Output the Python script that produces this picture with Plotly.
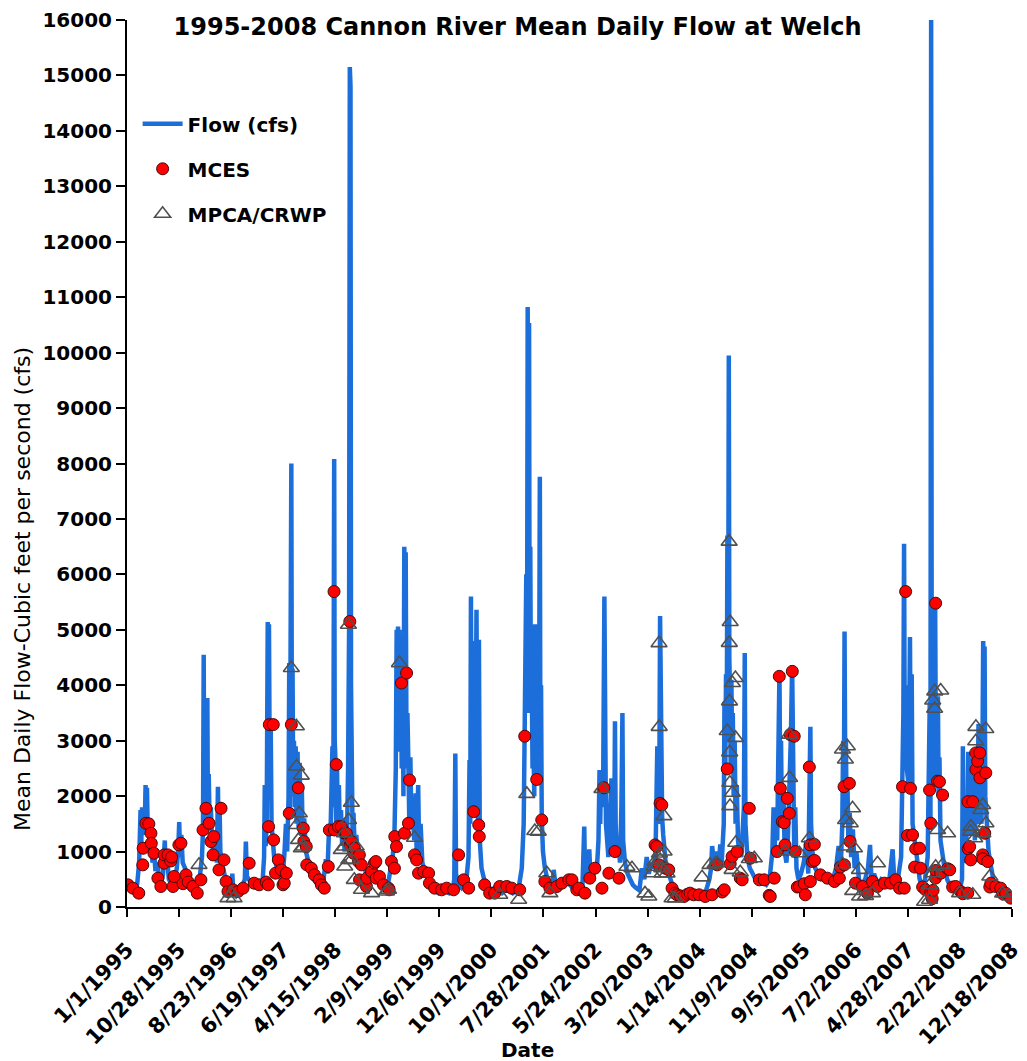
import plotly.graph_objects as go

# Mean daily flow at Welch (date, cfs)
flow = [
    # 1995
    ("1995-01-01", 400), ("1995-01-20", 350), ("1995-02-10", 300), ("1995-03-01", 420), ("1995-03-12", 800),
    ("1995-03-20", 1750), ("1995-03-24", 1100), ("1995-03-29", 1800), ("1995-04-03", 1300), ("1995-04-08", 1750),
    ("1995-04-13", 1400), ("1995-04-18", 2200), ("1995-04-22", 1500), ("1995-04-26", 2150), ("1995-05-01", 1300),
    ("1995-05-07", 1600), ("1995-05-13", 1000), ("1995-05-20", 1200), ("1995-05-28", 800), ("1995-06-06", 1000),
    ("1995-06-14", 650), ("1995-06-24", 800), ("1995-07-05", 550), ("1995-07-18", 450), ("1995-07-28", 600),
    ("1995-08-03", 1000), ("1995-08-07", 1200), ("1995-08-11", 700), ("1995-08-20", 900), ("1995-08-30", 500),
    ("1995-09-15", 420), ("1995-10-01", 450), ("1995-10-15", 700), ("1995-10-24", 1100), ("1995-10-29", 1530),
    ("1995-11-03", 900), ("1995-11-10", 1300), ("1995-11-18", 800), ("1995-12-01", 700), ("1995-12-15", 550),
    ("1995-12-28", 500),
    # 1996
    ("1996-01-15", 450), ("1996-02-05", 400), ("1996-02-25", 550), ("1996-03-08", 900), ("1996-03-14", 1400),
    ("1996-03-18", 4550), ("1996-03-21", 1700), ("1996-03-25", 2500), ("1996-03-29", 1600), ("1996-04-03", 2200),
    ("1996-04-08", 3770), ("1996-04-11", 1800), ("1996-04-16", 2400), ("1996-04-21", 1500), ("1996-04-28", 1800),
    ("1996-05-05", 1200), ("1996-05-14", 900), ("1996-05-24", 1100), ("1996-06-02", 800), ("1996-06-08", 2170),
    ("1996-06-12", 1200), ("1996-06-17", 1900), ("1996-06-22", 1000), ("1996-07-01", 800), ("1996-07-12", 600),
    ("1996-07-25", 450), ("1996-08-06", 300), ("1996-08-20", 220), ("1996-08-30", 600), ("1996-09-05", 250),
    ("1996-09-20", 200), ("1996-10-05", 280), ("1996-10-22", 350), ("1996-11-10", 500), ("1996-11-16", 1180),
    ("1996-11-22", 550), ("1996-12-05", 500), ("1996-12-20", 420),
    # 1997
    ("1997-01-10", 380), ("1997-02-01", 350), ("1997-02-20", 450), ("1997-03-01", 900), ("1997-03-05", 2200),
    ("1997-03-10", 1100), ("1997-03-16", 1500), ("1997-03-22", 5140), ("1997-03-25", 2500), ("1997-03-29", 5100),
    ("1997-04-03", 2200), ("1997-04-08", 3300), ("1997-04-13", 1500), ("1997-04-20", 1200), ("1997-04-28", 900),
    ("1997-05-10", 750), ("1997-05-22", 600), ("1997-06-05", 500), ("1997-06-15", 550), ("1997-06-25", 900),
    ("1997-07-05", 1500), ("1997-07-12", 1000), ("1997-07-20", 2000), ("1997-07-24", 4400), ("1997-07-28", 1800),
    ("1997-08-01", 4500), ("1997-08-05", 8000), ("1997-08-08", 3000), ("1997-08-12", 4300), ("1997-08-16", 2000),
    ("1997-08-20", 3000), ("1997-08-25", 1800), ("1997-08-30", 2900), ("1997-09-04", 1500), ("1997-09-10", 2800),
    ("1997-09-16", 1400), ("1997-09-22", 2600), ("1997-09-28", 1300), ("1997-10-04", 2200), ("1997-10-10", 1200),
    ("1997-10-18", 1600), ("1997-10-28", 1000), ("1997-11-10", 800), ("1997-11-25", 650), ("1997-12-10", 500),
    ("1997-12-25", 420),
    # 1998
    ("1998-01-05", 400), ("1998-01-20", 350), ("1998-02-05", 450), ("1998-02-20", 860), ("1998-03-01", 600),
    ("1998-03-10", 1400), ("1998-03-20", 1500), ("1998-03-30", 2900), ("1998-04-04", 1800), ("1998-04-07", 5700),
    ("1998-04-09", 8080), ("1998-04-12", 3000), ("1998-04-16", 2680), ("1998-04-20", 1500), ("1998-04-25", 2600),
    ("1998-04-30", 1400), ("1998-05-06", 2200), ("1998-05-12", 1300), ("1998-05-18", 1750), ("1998-05-25", 1100),
    ("1998-06-01", 1600), ("1998-06-08", 1000), ("1998-06-15", 1500), ("1998-06-22", 1300), ("1998-06-28", 2500),
    ("1998-07-04", 5100), ("1998-07-08", 15150), ("1998-07-10", 6000), ("1998-07-12", 14800), ("1998-07-15", 4000),
    ("1998-07-19", 1930), ("1998-07-24", 1300), ("1998-07-29", 1700), ("1998-08-05", 1100), ("1998-08-14", 1300),
    ("1998-08-25", 900), ("1998-09-05", 1000), ("1998-09-15", 700), ("1998-09-28", 800), ("1998-10-12", 550),
    ("1998-10-28", 700), ("1998-11-12", 550), ("1998-11-28", 800), ("1998-12-10", 500), ("1998-12-28", 400),
    # 1999
    ("1999-01-10", 380), ("1999-01-28", 350), ("1999-02-15", 450), ("1999-03-01", 700), ("1999-03-12", 900),
    ("1999-03-22", 1300), ("1999-03-30", 2500), ("1999-04-04", 5000), ("1999-04-08", 3000), ("1999-04-12", 5060),
    ("1999-04-16", 3500), ("1999-04-20", 5000), ("1999-04-24", 2800), ("1999-04-28", 4500), ("1999-05-03", 2500),
    ("1999-05-08", 4400), ("1999-05-13", 2000), ("1999-05-18", 6500), ("1999-05-22", 3000), ("1999-05-26", 6400),
    ("1999-05-31", 2500), ("1999-06-05", 3500), ("1999-06-10", 2700), ("1999-06-16", 1500), ("1999-06-22", 2700),
    ("1999-06-28", 1400), ("1999-07-05", 1800), ("1999-07-14", 1200), ("1999-07-22", 2050), ("1999-07-28", 1000),
    ("1999-08-06", 2200), ("1999-08-12", 900), ("1999-08-20", 1500), ("1999-08-30", 800), ("1999-09-15", 600),
    ("1999-10-01", 500), ("1999-10-20", 400), ("1999-11-10", 300), ("1999-12-01", 250), ("1999-12-20", 300),
    # 2000
    ("2000-01-10", 300), ("2000-02-01", 250), ("2000-02-20", 300), ("2000-03-01", 500), ("2000-03-07", 2770),
    ("2000-03-11", 600), ("2000-03-25", 400), ("2000-04-10", 350), ("2000-04-25", 450), ("2000-05-10", 500),
    ("2000-05-22", 900), ("2000-05-28", 2650), ("2000-06-01", 1500), ("2000-06-05", 5600), ("2000-06-09", 2500),
    ("2000-06-13", 4800), ("2000-06-17", 2000), ("2000-06-22", 3500), ("2000-06-27", 1800), ("2000-07-02", 2650),
    ("2000-07-07", 5360), ("2000-07-11", 2500), ("2000-07-16", 1500), ("2000-07-21", 4820), ("2000-07-26", 1200),
    ("2000-08-05", 700), ("2000-08-20", 500), ("2000-09-10", 400), ("2000-09-30", 300), ("2000-10-20", 350),
    ("2000-11-10", 300), ("2000-12-01", 250), ("2000-12-20", 300),
    # 2001
    ("2001-01-10", 300), ("2001-02-01", 250), ("2001-02-25", 300), ("2001-03-10", 400), ("2001-03-25", 700),
    ("2001-04-05", 1500), ("2001-04-10", 3100), ("2001-04-15", 4300), ("2001-04-20", 6000), ("2001-04-24", 3500),
    ("2001-04-28", 10825), ("2001-05-02", 6000), ("2001-05-06", 10535), ("2001-05-09", 4300), ("2001-05-13", 6500),
    ("2001-05-17", 3500), ("2001-05-21", 4300), ("2001-05-26", 2500), ("2001-05-31", 3000), ("2001-06-05", 2000),
    ("2001-06-10", 5100), ("2001-06-14", 2500), ("2001-06-18", 4500), ("2001-06-22", 2300), ("2001-06-27", 3500),
    ("2001-07-02", 2500), ("2001-07-07", 7760), ("2001-07-10", 3000), ("2001-07-14", 4000), ("2001-07-18", 1600),
    ("2001-07-25", 1000), ("2001-08-05", 700), ("2001-08-20", 500), ("2001-09-05", 400), ("2001-09-15", 350),
    ("2001-09-25", 670), ("2001-10-05", 400), ("2001-10-25", 350), ("2001-11-15", 400), ("2001-12-05", 500),
    ("2001-12-25", 400),
    # 2002
    ("2002-01-10", 350), ("2002-02-01", 300), ("2002-02-20", 350), ("2002-03-10", 400), ("2002-03-20", 1450),
    ("2002-03-25", 500), ("2002-04-10", 600), ("2002-04-18", 1040), ("2002-04-25", 500), ("2002-05-15", 600),
    ("2002-06-01", 700), ("2002-06-10", 1200), ("2002-06-16", 2470), ("2002-06-20", 1500), ("2002-06-25", 2400),
    ("2002-07-01", 1800), ("2002-07-07", 2200), ("2002-07-14", 5600), ("2002-07-18", 2300), ("2002-07-23", 1500),
    ("2002-07-30", 1200), ("2002-08-06", 900), ("2002-08-12", 1500), ("2002-08-24", 2320), ("2002-08-29", 1000),
    ("2002-09-05", 2000), ("2002-09-09", 1300), ("2002-09-13", 3350), ("2002-09-17", 1500), ("2002-09-24", 900),
    ("2002-10-02", 1200), ("2002-10-12", 800), ("2002-10-20", 1800), ("2002-10-26", 3500), ("2002-10-30", 1200),
    ("2002-11-10", 800), ("2002-11-25", 600), ("2002-12-10", 500), ("2002-12-25", 400),
    # 2003
    ("2003-01-10", 350), ("2003-02-01", 300), ("2003-02-15", 700), ("2003-03-01", 500), ("2003-03-15", 900),
    ("2003-03-27", 600), ("2003-04-10", 800), ("2003-04-25", 700), ("2003-05-05", 1000), ("2003-05-15", 2900),
    ("2003-05-21", 1500), ("2003-05-27", 2500), ("2003-05-31", 5250), ("2003-06-03", 3300), ("2003-06-08", 2200),
    ("2003-06-12", 1600), ("2003-06-18", 1300), ("2003-06-25", 1000), ("2003-07-05", 700), ("2003-07-20", 600),
    ("2003-08-08", 400), ("2003-08-25", 250), ("2003-09-15", 200), ("2003-10-05", 150), ("2003-10-25", 200),
    ("2003-11-15", 250), ("2003-12-05", 200), ("2003-12-25", 250),
    # 2004
    ("2004-01-10", 200), ("2004-02-01", 250), ("2004-02-20", 300), ("2004-03-10", 500), ("2004-03-20", 700),
    ("2004-03-26", 1100), ("2004-04-05", 800), ("2004-04-20", 1000), ("2004-05-01", 700), ("2004-05-12", 1130),
    ("2004-05-20", 800), ("2004-06-01", 1500), ("2004-06-05", 3700), ("2004-06-10", 2500), ("2004-06-14", 4200),
    ("2004-06-18", 3000), ("2004-06-22", 6700), ("2004-06-26", 3500), ("2004-06-30", 9950), ("2004-07-03", 4500),
    ("2004-07-07", 3800), ("2004-07-11", 2500), ("2004-07-15", 4100), ("2004-07-19", 2800), ("2004-07-23", 3500),
    ("2004-07-28", 2000), ("2004-08-03", 3000), ("2004-08-08", 1500), ("2004-08-15", 2200), ("2004-08-22", 1200),
    ("2004-08-30", 1000), ("2004-09-10", 900), ("2004-09-25", 1800), ("2004-09-30", 4580), ("2004-10-04", 1500),
    ("2004-10-15", 900), ("2004-10-29", 700), ("2004-11-15", 600), ("2004-12-01", 500), ("2004-12-20", 450),
    # 2005
    ("2005-01-10", 450), ("2005-02-01", 400), ("2005-02-20", 500), ("2005-03-08", 1000), ("2005-03-15", 1800),
    ("2005-03-20", 900), ("2005-03-28", 1700), ("2005-04-05", 1200), ("2005-04-12", 2500), ("2005-04-18", 4270),
    ("2005-04-22", 2000), ("2005-04-27", 3000), ("2005-05-02", 1500), ("2005-05-10", 2200), ("2005-05-18", 1000),
    ("2005-05-28", 800), ("2005-06-05", 1200), ("2005-06-15", 2000), ("2005-06-23", 3100), ("2005-06-30", 4360),
    ("2005-07-04", 2500), ("2005-07-08", 3100), ("2005-07-12", 1000), ("2005-07-18", 1800), ("2005-07-25", 700),
    ("2005-08-05", 500), ("2005-08-20", 600), ("2005-09-05", 800), ("2005-09-20", 1200), ("2005-10-01", 600),
    ("2005-10-09", 2500), ("2005-10-13", 3250), ("2005-10-17", 1500), ("2005-10-25", 1000), ("2005-11-10", 700),
    ("2005-11-25", 600), ("2005-12-15", 500),
    # 2006
    ("2006-01-10", 500), ("2006-02-01", 450), ("2006-02-20", 500), ("2006-03-10", 700), ("2006-03-25", 1100),
    ("2006-04-05", 600), ("2006-04-15", 1500), ("2006-04-20", 3000), ("2006-04-24", 1800), ("2006-04-28", 4970),
    ("2006-05-02", 2500), ("2006-05-06", 3000), ("2006-05-10", 1500), ("2006-05-15", 2200), ("2006-05-20", 1200),
    ("2006-05-28", 1700), ("2006-06-05", 900), ("2006-06-15", 1400), ("2006-06-25", 700), ("2006-07-05", 1000),
    ("2006-07-20", 500), ("2006-08-05", 400), ("2006-08-25", 500), ("2006-09-10", 700), ("2006-09-22", 1120),
    ("2006-09-30", 500), ("2006-10-15", 600), ("2006-11-05", 400), ("2006-11-25", 500), ("2006-12-15", 450),
    # 2007
    ("2007-01-10", 450), ("2007-01-30", 1040), ("2007-02-10", 400), ("2007-03-01", 500), ("2007-03-20", 900),
    ("2007-03-28", 2200), ("2007-04-02", 3500), ("2007-04-06", 6550), ("2007-04-10", 3000), ("2007-04-16", 4000),
    ("2007-04-22", 2500), ("2007-05-02", 2200), ("2007-05-10", 4870), ("2007-05-14", 2500), ("2007-05-20", 4200),
    ("2007-05-25", 1500), ("2007-06-02", 1300), ("2007-06-12", 1000), ("2007-06-25", 700), ("2007-07-05", 500),
    ("2007-07-20", 350), ("2007-08-05", 500), ("2007-08-20", 900), ("2007-08-27", 2100), ("2007-09-01", 3700),
    ("2007-09-05", 1500), ("2007-09-09", 16000), ("2007-09-12", 5000), ("2007-09-16", 3900), ("2007-09-20", 3600),
    ("2007-09-24", 2200), ("2007-09-28", 3900), ("2007-10-02", 5500), ("2007-10-06", 3000), ("2007-10-10", 3800),
    ("2007-10-14", 2300), ("2007-10-18", 3800), ("2007-10-22", 2000), ("2007-10-27", 2700), ("2007-11-02", 1200),
    ("2007-11-12", 900), ("2007-11-25", 700), ("2007-12-10", 500), ("2007-12-25", 400),
    # 2008
    ("2008-01-10", 350), ("2008-02-01", 300), ("2008-02-20", 300), ("2008-03-05", 500), ("2008-03-10", 2900),
    ("2008-03-14", 800), ("2008-03-25", 1000), ("2008-04-05", 1500), ("2008-04-10", 2800), ("2008-04-14", 1500),
    ("2008-04-20", 2600), ("2008-04-25", 1300), ("2008-05-01", 2700), ("2008-05-06", 1500), ("2008-05-12", 2500),
    ("2008-05-18", 1200), ("2008-05-25", 2000), ("2008-06-01", 1500), ("2008-06-08", 3300), ("2008-06-12", 2000),
    ("2008-06-18", 2500), ("2008-06-25", 1500), ("2008-07-01", 3000), ("2008-07-05", 4800), ("2008-07-09", 3200),
    ("2008-07-13", 4700), ("2008-07-17", 2000), ("2008-07-25", 1500), ("2008-08-05", 1000), ("2008-08-15", 800),
    ("2008-09-01", 500), ("2008-09-20", 400), ("2008-10-10", 300), ("2008-11-05", 250), ("2008-12-01", 200),
    ("2008-12-18", 250),
]

# MCES grab samples (date, flow cfs on sample day)
mces = [
    ("1995-01-07", 400), ("1995-02-04", 340), ("1995-03-10", 250), ("1995-04-02", 760), ("1995-04-04", 1060),
    ("1995-04-20", 1510), ("1995-05-07", 1500), ("1995-05-19", 1330), ("1995-05-21", 1150), ("1995-06-05", 970),
    ("1995-06-28", 520), ("1995-07-15", 370), ("1995-08-02", 790), ("1995-08-04", 940), ("1995-08-25", 940),
    ("1995-09-10", 830), ("1995-09-15", 900), ("1995-09-23", 370), ("1995-09-29", 550), ("1995-10-27", 1120),
    ("1995-11-08", 1150), ("1995-11-20", 420), ("1995-12-07", 580), ("1995-12-20", 450),
    ("1996-01-16", 370), ("1996-02-10", 250), ("1996-03-02", 490), ("1996-03-14", 1390), ("1996-03-31", 1780),
    ("1996-04-18", 1510), ("1996-04-29", 1180), ("1996-05-11", 940), ("1996-05-15", 1270), ("1996-06-14", 670),
    ("1996-06-26", 1780), ("1996-07-13", 850), ("1996-07-25", 460), ("1996-08-05", 280), ("1996-09-03", 310),
    ("1996-10-02", 280), ("1996-10-31", 340), ("1996-12-05", 790),
    ("1997-01-03", 430), ("1997-02-01", 400), ("1997-03-13", 450), ("1997-03-25", 400), ("1997-03-27", 1450),
    ("1997-03-31", 3290), ("1997-04-23", 3290), ("1997-04-25", 1210), ("1997-05-06", 610), ("1997-05-22", 850),
    ("1997-06-08", 670), ("1997-06-18", 400), ("1997-06-25", 430), ("1997-07-07", 610), ("1997-07-24", 1690),
    ("1997-08-05", 3290), ("1997-09-14", 2150), ("1997-10-13", 1420), ("1997-10-16", 1180), ("1997-10-30", 1090),
    ("1997-11-02", 760), ("1997-11-28", 700), ("1997-12-16", 580),
    ("1998-01-13", 490), ("1998-01-25", 400), ("1998-02-11", 340), ("1998-03-06", 730), ("1998-03-12", 1390),
    ("1998-04-08", 5690), ("1998-04-10", 1390), ("1998-04-21", 2570), ("1998-05-03", 1450), ("1998-05-20", 1450),
    ("1998-06-07", 1330), ("1998-06-18", 1330), ("1998-07-08", 5150), ("1998-07-10", 1120), ("1998-07-17", 1180),
    ("1998-07-29", 970), ("1998-08-03", 1060), ("1998-08-27", 820), ("1998-09-01", 940), ("1998-09-02", 490),
    ("1998-09-13", 760), ("1998-10-12", 370), ("1998-10-14", 520), ("1998-11-10", 640), ("1998-11-27", 790),
    ("1998-12-05", 820), ("1998-12-07", 520), ("1998-12-26", 550),
    ("1999-01-18", 400), ("1999-02-16", 340), ("1999-02-20", 310), ("1999-03-05", 820), ("1999-03-22", 700),
    ("1999-03-24", 1270), ("1999-04-03", 1090), ("1999-05-02", 4040), ("1999-05-19", 1330), ("1999-05-31", 4220),
    ("1999-06-11", 1510), ("1999-06-17", 2290), ("1999-07-16", 940), ("1999-07-28", 850), ("1999-08-08", 610),
    ("1999-09-06", 640), ("1999-10-05", 610), ("1999-10-10", 430), ("1999-11-09", 340), ("1999-12-19", 310),
    ("2000-01-17", 340), ("2000-02-26", 310), ("2000-03-26", 940), ("2000-04-24", 490), ("2000-05-23", 340),
    ("2000-06-21", 1720), ("2000-07-20", 1480), ("2000-07-23", 1270), ("2000-08-23", 400), ("2000-09-21", 250),
    ("2000-10-20", 250), ("2000-11-18", 370), ("2000-12-28", 370),
    ("2001-01-26", 340), ("2001-03-13", 310), ("2001-04-11", 3080), ("2001-06-19", 2300), ("2001-07-18", 1570),
    ("2001-08-05", 460), ("2001-09-03", 340), ("2001-10-13", 370), ("2001-11-11", 430), ("2001-12-21", 490),
    ("2002-01-08", 490), ("2002-02-05", 310), ("2002-02-17", 340), ("2002-03-24", 250), ("2002-04-21", 520),
    ("2002-05-20", 700), ("2002-06-30", 340), ("2002-07-11", 2150), ("2002-08-09", 610), ("2002-09-13", 1000),
    ("2002-10-06", 520),
    ("2003-05-02", 1120), ("2003-05-12", 1090), ("2003-05-26", 760), ("2003-05-31", 1870), ("2003-06-10", 1840),
    ("2003-06-29", 700), ("2003-07-20", 670), ("2003-08-08", 340), ("2003-08-25", 250), ("2003-09-05", 220),
    ("2003-09-25", 200), ("2003-10-16", 190), ("2003-11-05", 230), ("2003-11-20", 250), ("2003-12-10", 220),
    ("2004-01-11", 220), ("2004-02-15", 190), ("2004-03-26", 220), ("2004-04-24", 760), ("2004-05-23", 270),
    ("2004-06-04", 310), ("2004-06-21", 2490), ("2004-07-08", 780), ("2004-07-19", 910), ("2004-08-17", 1000),
    ("2004-09-04", 520), ("2004-09-15", 490), ("2004-10-26", 1780), ("2004-11-01", 880), ("2004-12-23", 490),
    ("2005-01-20", 490), ("2005-02-18", 210), ("2005-02-24", 190), ("2005-03-19", 520), ("2005-04-05", 1000),
    ("2005-04-17", 4160), ("2005-04-23", 2140), ("2005-05-04", 1540), ("2005-05-15", 1520), ("2005-05-20", 1120),
    ("2005-06-02", 1960), ("2005-06-14", 1690), ("2005-06-19", 3110), ("2005-07-01", 4250), ("2005-07-12", 3080),
    ("2005-07-18", 1000), ("2005-07-30", 360), ("2005-08-11", 370), ("2005-09-08", 420), ("2005-09-14", 220),
    ("2005-10-07", 2525), ("2005-10-12", 1120), ("2005-10-13", 460), ("2005-10-25", 820), ("2005-11-05", 1130),
    ("2005-11-06", 840), ("2005-12-10", 580),
    ("2006-01-19", 520), ("2006-03-01", 460), ("2006-03-29", 520), ("2006-04-04", 720), ("2006-04-25", 2170),
    ("2006-04-27", 760), ("2006-05-26", 2230), ("2006-05-30", 1180), ("2006-06-30", 430), ("2006-08-09", 370),
    ("2006-09-07", 250), ("2006-10-06", 460), ("2006-11-04", 370), ("2006-12-14", 430),
    ("2007-01-18", 430), ("2007-02-16", 490), ("2007-03-11", 340), ("2007-03-28", 2170), ("2007-04-07", 340),
    ("2007-04-15", 5690), ("2007-04-26", 1290), ("2007-05-13", 2140), ("2007-05-25", 1300), ("2007-06-06", 720),
    ("2007-06-12", 1050), ("2007-07-04", 1060), ("2007-07-10", 700), ("2007-07-22", 360), ("2007-08-08", 310),
    ("2007-08-31", 2110), ("2007-09-06", 250), ("2007-09-07", 1510), ("2007-09-15", 150), ("2007-09-20", 300),
    ("2007-10-04", 520), ("2007-10-05", 5480), ("2007-10-06", 660), ("2007-10-16", 2270), ("2007-10-27", 2260),
    ("2007-11-03", 610), ("2007-11-14", 2020), ("2007-12-13", 690), ("2007-12-25", 670),
    ("2008-01-11", 360), ("2008-01-28", 370), ("2008-02-26", 280), ("2008-03-09", 240), ("2008-04-07", 250),
    ("2008-04-08", 1900), ("2008-04-09", 1050), ("2008-04-18", 1090), ("2008-04-24", 850), ("2008-05-06", 1900),
    ("2008-05-23", 2780), ("2008-05-24", 2480), ("2008-06-03", 2630), ("2008-06-15", 2780), ("2008-06-16", 2330),
    ("2008-07-02", 940), ("2008-07-03", 870), ("2008-07-14", 1330), ("2008-07-20", 2420), ("2008-07-31", 820),
    ("2008-08-12", 360), ("2008-08-18", 430), ("2008-09-15", 370), ("2008-10-14", 340), ("2008-10-25", 240),
    ("2008-11-11", 250), ("2008-12-11", 160),
]

# MPCA / CRWP samples (date, flow cfs on sample day)
mpca = [
    ("1996-02-20", 760), ("1996-08-05", 160), ("1996-08-23", 250), ("1996-09-09", 160),
    ("1997-08-05", 4310), ("1997-09-03", 3260), ("1997-09-04", 2535), ("1997-09-05", 1480), ("1997-09-15", 1210),
    ("1997-09-20", 1690), ("1997-10-01", 2370), ("1997-10-02", 1060), ("1997-10-13", 1090),
    ("1998-05-20", 1030), ("1998-06-07", 1330), ("1998-06-08", 1090), ("1998-06-09", 730), ("1998-06-30", 5090),
    ("1998-07-01", 1570), ("1998-07-02", 850), ("1998-07-17", 1880), ("1998-07-18", 850), ("1998-08-03", 490),
    ("1998-08-14", 1090), ("1998-09-13", 310), ("1998-11-10", 250),
    ("1999-02-04", 280), ("1999-02-16", 310), ("1999-04-20", 4400), ("1999-07-16", 1250),
    ("2000-11-18", 220),
    ("2001-03-07", 130), ("2001-04-23", 2040), ("2001-06-08", 1370), ("2001-06-28", 1360), ("2001-08-16", 610),
    ("2001-09-03", 250),
    ("2002-06-30", 2130), ("2002-11-21", 725), ("2002-12-20", 700),
    ("2003-03-05", 245), ("2003-03-27", 190), ("2003-04-15", 610), ("2003-04-25", 725), ("2003-05-02", 815),
    ("2003-05-25", 4760), ("2003-05-26", 3250), ("2003-05-27", 965), ("2003-05-31", 850), ("2003-06-10", 700),
    ("2003-06-11", 605), ("2003-06-22", 1640), ("2003-06-23", 1000), ("2003-07-10", 607), ("2003-08-08", 157),
    ("2003-08-25", 155),
    ("2004-01-28", 535), ("2004-03-14", 760), ("2004-04-12", 775), ("2004-04-24", 790), ("2004-06-21", 3175),
    ("2004-07-02", 6590), ("2004-07-03", 4765), ("2004-07-04", 3710), ("2004-07-05", 2790), ("2004-07-06", 2240),
    ("2004-07-07", 1820), ("2004-07-08", 5140), ("2004-07-19", 670), ("2004-07-20", 2060), ("2004-07-21", 4040),
    ("2004-08-07", 4130), ("2004-08-08", 3050), ("2004-08-09", 1160), ("2004-09-04", 625), ("2004-10-26", 865),
    ("2004-11-24", 880),
    ("2005-05-22", 1000), ("2005-06-14", 3110), ("2005-06-15", 2330), ("2005-08-11", 970), ("2005-10-07", 1240),
    ("2006-04-16", 2840), ("2006-04-17", 770), ("2006-05-03", 2660), ("2006-05-04", 1570), ("2006-05-05", 1090),
    ("2006-05-14", 2900), ("2006-05-31", 1510), ("2006-06-13", 1780), ("2006-06-14", 290), ("2006-06-24", 1060),
    ("2006-07-23", 670), ("2006-07-24", 190), ("2006-08-27", 200), ("2006-10-06", 250), ("2006-11-04", 790),
    ("2007-08-02", 95), ("2007-08-31", 130), ("2007-09-01", 395), ("2007-09-18", 3725), ("2007-09-19", 610),
    ("2007-09-29", 3575), ("2007-09-30", 3890), ("2007-10-05", 725), ("2007-10-16", 1390), ("2007-11-03", 3905),
    ("2007-11-14", 760), ("2007-12-13", 1330),
    ("2008-02-20", 250), ("2008-04-24", 1360), ("2008-04-25", 1450), ("2008-05-06", 220), ("2008-05-17", 1240),
    ("2008-05-23", 2990), ("2008-05-24", 3250), ("2008-06-21", 1750), ("2008-07-02", 1840), ("2008-07-03", 1330),
    ("2008-07-20", 3210), ("2008-07-21", 1510), ("2008-08-12", 550), ("2008-10-25", 245), ("2008-12-04", 190),
]

y_ticks = list(range(0, 16001, 1000))
FONT = "DejaVu Sans"

flow_x, flow_y = zip(*flow)
mces_x, mces_y = zip(*mces)
mpca_x, mpca_y = zip(*mpca)

fig = go.Figure()
fig.add_trace(go.Scatter(
    x=flow_x, y=flow_y, mode="lines", name="Flow (cfs)", legendgroup="a",
    line=dict(color="#1C6FDA", width=4.5),
))
fig.add_trace(go.Scatter(
    x=mces_x, y=mces_y, mode="markers", name="MCES", legendgroup="b",
    marker=dict(symbol="circle", size=12, color="#FF0000", line=dict(color="#4A0A0A", width=1)),
))
fig.add_trace(go.Scatter(
    x=mpca_x, y=mpca_y, mode="markers", name="MPCA/CRWP", legendgroup="c",
    marker=dict(symbol="triangle-up-open", size=14, color="#505050", line=dict(width=1.6)),
))

fig.update_layout(
    width=1027, height=1061,
    margin=dict(l=127, r=15, t=20, b=154),
    paper_bgcolor="white", plot_bgcolor="white",
    font=dict(family=FONT, size=20, color="black"),
    title=dict(
        text="1995-2008 Cannon River Mean Daily Flow at Welch",
        x=0.504, xref="container", xanchor="center",
        y=0.975, yref="container", yanchor="middle",
        font=dict(family=FONT, size=24, weight="bold", color="black"),
    ),
    showlegend=True,
    legend=dict(
        x=0.012, y=0.905, xanchor="left", yanchor="top",
        bgcolor="rgba(0,0,0,0)", tracegroupgap=16, traceorder="grouped",
        font=dict(family=FONT, size=20, weight="bold", color="black"),
        itemwidth=40,
    ),
    xaxis=dict(
        type="date", automargin=False,
        range=["1995-01-01", "2008-12-18"],
        tick0="1995-01-01", dtick=300 * 86400000,
        tickformat="%-m/%-d/%Y", tickangle=-46,
        ticks="outside", ticklen=8, tickwidth=2, tickcolor="black",
        ticklabelstandoff=12,
        showline=True, linecolor="black", linewidth=2,
        showgrid=False, zeroline=False,
        tickfont=dict(family=FONT, size=21, weight="bold", color="black"),
    ),
    yaxis=dict(
        automargin=False,
        range=[0, 16000], tickvals=y_ticks, tickformat="d",
        ticks="outside", ticklen=9, tickwidth=2, tickcolor="black",
        showline=True, linecolor="black", linewidth=2,
        showgrid=False, zeroline=False,
        tickfont=dict(family=FONT, size=20, weight="bold", color="black"),
    ),
    annotations=[
        dict(
            text="Mean Daily Flow-Cubic feet per second (cfs)",
            xref="paper", yref="paper", x=-0.1186, y=0.3585,
            xanchor="center", yanchor="middle", textangle=-90, showarrow=False,
            font=dict(family=FONT, size=22, color="black"),
        ),
        dict(
            text="Date",
            xref="paper", yref="paper", x=0.452, y=-0.1608,
            xanchor="center", yanchor="middle", showarrow=False,
            font=dict(family=FONT, size=20, weight="bold", color="black"),
        ),
    ],
)

fig.write_html("out.html")
